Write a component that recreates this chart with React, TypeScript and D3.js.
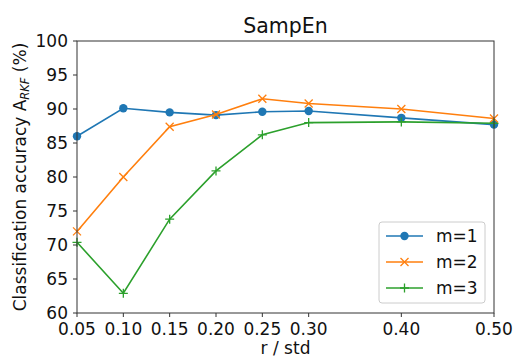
import React from "react";
import * as d3 from "d3";

const rValues = [0.05, 0.1, 0.15, 0.2, 0.25, 0.3, 0.4, 0.5];
const xTickLabels = ["0.05", "0.10", "0.15", "0.20", "0.25", "0.30", "0.40", "0.50"];
const yTicks = [60, 65, 70, 75, 80, 85, 90, 95, 100];
const m1 = [86.0, 90.1, 89.5, 89.1, 89.6, 89.7, 88.7, 87.7];
const m2 = [72.0, 80.0, 87.4, 89.2, 91.5, 90.8, 90.0, 88.6];
const m3 = [70.4, 62.9, 73.8, 80.9, 86.2, 88.0, 88.1, 87.9];
const seriesNames = ["m=1", "m=2", "m=3"];
const colors = ["#1f77b4", "#ff7f0e", "#2ca02c"];

const W = 516, H = 358;
const L = 77, R = 494, T = 41, B = 313;
const FONT = "DejaVu Sans, sans-serif";

function Marker({ kind, x, y, color }: { kind: number; x: number; y: number; color: string }) {
  if (kind === 0) return <circle cx={x} cy={y} r={4.2} fill={color} />;
  if (kind === 1) {
    const s = 4;
    return (
      <path d={`M${x - s},${y - s}L${x + s},${y + s}M${x - s},${y + s}L${x + s},${y - s}`} stroke={color} strokeWidth={1.3} fill="none" />
    );
  }
  const s = 4.5;
  return <path d={`M${x - s},${y}L${x + s},${y}M${x},${y - s}L${x},${y + s}`} stroke={color} strokeWidth={1.3} fill="none" />;
}

export default function App() {
  const x = d3.scaleLinear().domain([0.05, 0.5]).range([L, R]);
  const y = d3.scaleLinear().domain([60, 100]).range([B, T]);
  const line = d3.line<number>().x((_, i) => x(rValues[i])).y((d) => y(d));
  const all = [m1, m2, m3];
  return (
    <svg width={W} height={H} style={{ position: "absolute", left: 0, top: 0 }} fontFamily={FONT}>
      <rect width={W} height={H} fill="white" />
      <defs>
        <clipPath id="clip">
          <rect x={L - 6} y={T - 6} width={R - L + 12} height={B - T + 12} />
        </clipPath>
      </defs>
      <g clipPath="url(#clip)">
        {all.map((s, k) => (
          <g key={k}>
            <path d={line(s) || ""} fill="none" stroke={colors[k]} strokeWidth={1.6} />
            {s.map((v, i) => (
              <Marker key={i} kind={k} x={x(rValues[i])} y={y(v)} color={colors[k]} />
            ))}
          </g>
        ))}
      </g>
      <rect x={L} y={T} width={R - L} height={B - T} fill="none" stroke="#333" strokeWidth={1} />
      {yTicks.map((t) => (
        <g key={t}>
          <line x1={L - 4} x2={L} y1={y(t)} y2={y(t)} stroke="#333" />
          <text x={L - 9} y={y(t)} dy="0.36em" textAnchor="end" fontSize={17} fill="#111">{t}</text>
        </g>
      ))}
      {rValues.map((r, i) => (
        <g key={r}>
          <line x1={x(r)} x2={x(r)} y1={B} y2={B + 4} stroke="#333" />
          <text x={x(r)} y={B + 22} textAnchor="middle" fontSize={17} fill="#111">{xTickLabels[i]}</text>
        </g>
      ))}
      <text x={(L + R) / 2} y={33} textAnchor="middle" fontSize={20.5} fill="#111">SampEn</text>
      <text x={(L + R) / 2} y={354} textAnchor="middle" fontSize={17} fill="#111">r / std</text>
      <text transform={`translate(26,${(T + B) / 2}) rotate(-90)`} textAnchor="middle" fontSize={17} fill="#111">
        Classification accuracy A<tspan fontSize={11.5} fontStyle="italic" dy="3">RKF</tspan>
        <tspan dy="-3"> (%)</tspan>
      </text>
      <g>
        <rect x={379} y={222} width={106} height={81} rx={3} fill="white" stroke="#ccc" />
        {seriesNames.map((n, k) => {
          const yy = 236 + k * 26;
          return (
            <g key={n}>
              <line x1={386} x2={423} y1={yy} y2={yy} stroke={colors[k]} strokeWidth={1.6} />
              <Marker kind={k} x={404.5} y={yy} color={colors[k]} />
              <text x={436} y={yy} dy="0.36em" fontSize={17} fill="#111">{n}</text>
            </g>
          );
        })}
      </g>
    </svg>
  );
}
